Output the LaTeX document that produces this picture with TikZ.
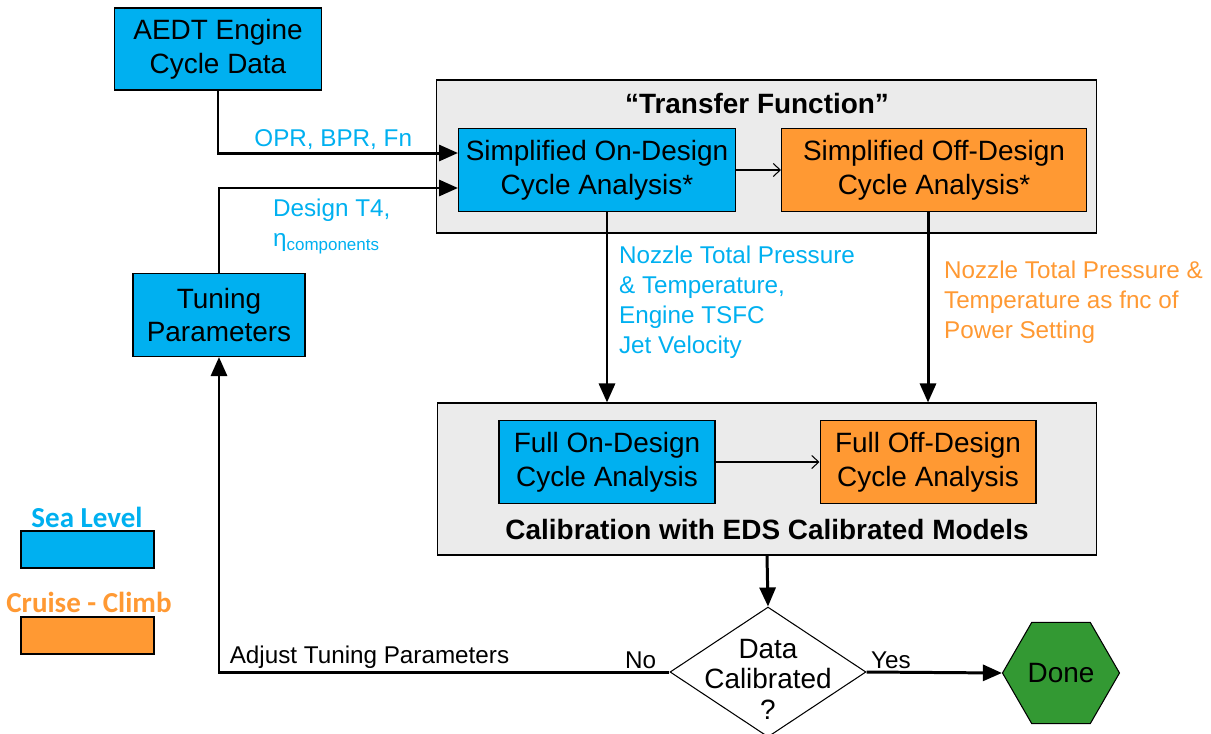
\documentclass[tikz,border=0pt]{standalone}
\usepackage{fontspec}
\setmainfont{Liberation Sans}
\newfontfamily\legendfont{Carlito}
\usetikzlibrary{positioning,shapes.geometric,arrows.meta}
\definecolor{slblue}{HTML}{00B0F0}
\definecolor{ccorange}{HTML}{FF9933}
\definecolor{donegreen}{HTML}{339933}
\definecolor{tfgray}{HTML}{EBEBEB}

\begin{document}
\begin{tikzpicture}[x=0.02cm, y=-0.02cm,
  blk/.style  = {draw, line width=0.6pt, align=center, inner sep=1pt,
                 minimum height=1.66cm, font=\fontsize{15.9}{19.3}\selectfont},
  onblk/.style  = {blk, fill=slblue},
  offblk/.style = {blk, fill=ccorange},
  grp/.style  = {draw, line width=0.6pt, fill=tfgray},
  ttl/.style  = {font=\bfseries\fontsize{15.9}{19.3}\selectfont},
  lbl/.style  = {font=\fontsize{13.8}{17}\selectfont, align=left, inner sep=1pt},
  lgd/.style  = {font=\legendfont\bfseries\fontsize{16.5}{19}\selectfont},
  lgdbox/.style = {draw, line width=1pt, minimum width=2.66cm, minimum height=0.74cm},
  flw/.style  = {-{Triangle[length=0.38cm, width=0.32cm]}, line width=1.7pt},
  thn/.style  = {-{Straight Barb[length=0.14cm, width=0.26cm]}, line width=0.6pt}
]
\useasboundingbox (0,0) rectangle (1211,734);

% --- groupes ---
\node[grp, minimum width=13.22cm, minimum height=3.06cm] (tf) at (766.5,156.5) {};
\node[ttl] (tftitle) at (757,104) {“Transfer Function”};
\node[grp, minimum width=13.2cm, minimum height=3.04cm] (cal) at (767,479) {};
\node[ttl] (caltitle) at (767,530) {Calibration with EDS Calibrated Models};

% --- blocs ---
\node[onblk, minimum width=4.14cm, minimum height=1.64cm] (aedt) at (218,49) {AEDT Engine\\Cycle Data};
\node[onblk, minimum width=5.54cm] (sod) at (597,170) {Simplified On-Design\\Cycle Analysis*};
\node[offblk, minimum width=6.1cm] (sofd) at (934,170) {Simplified Off-Design\\Cycle Analysis*};
\node[onblk, minimum width=3.44cm] (tune) at (219,315) {Tuning\\Parameters};
\node[onblk, minimum width=4.32cm] (fond) at (607,462) {Full On-Design\\Cycle Analysis};
\node[offblk, minimum width=4.32cm] (fofd) at (928,462) {Full Off-Design\\Cycle Analysis};

% --- decision et fin ---
\node[diamond, draw, line width=0.6pt, fill=white, minimum width=3.92cm, minimum height=2.6cm,
      inner sep=0pt] (dc) at (768,672) {};
\node[align=center, font=\fontsize{15.9}{17.4}\selectfont] (dctext) at (768,679) {Data\\Calibrated\\?};
\node[regular polygon, regular polygon sides=6, draw, line width=0.6pt, fill=donegreen,
      minimum size=2.34cm, inner sep=0pt, font=\fontsize{15.9}{19.3}\selectfont] (done) at (1061,673) {Done};

% --- fleches ---
\draw[flw] (aedt.south) |- ([yshift=0.34cm]sod.west)
  node[lbl, text=slblue, above, pos=0.74] {OPR, BPR, Fn};
\draw[flw] (tune.north) |- ([yshift=-0.36cm]sod.west);
\node[lbl, text=slblue, anchor=north west] (dsgn) at (271,197) {Design T4,\\η\textsubscript{components}};
\draw[thn] (sod) -- (sofd);
\draw[flw] (sod.south -| fond.north) -- (cal.north -| fond.north);
\node[lbl, text=slblue, anchor=north west] (nzon) at (617,244) {Nozzle Total Pressure\\\& Temperature,\\Engine TSFC\\Jet Velocity};
\draw[flw] (sofd.south -| fofd.north) -- (cal.north -| fofd.north);
\node[lbl, text=ccorange, anchor=north west] (nzoff) at (942,259) {Nozzle Total Pressure \&\\Temperature as fnc of\\Power Setting};
\draw[thn] (fond) -- (fofd);
\draw[flw] (cal.south) -- (dc.north);
\draw[flw] (dc.west) -| (tune.south)
  node[lbl, above, pos=0.032] {No}
  node[lbl, above, pos=0.333] {Adjust Tuning Parameters};
\draw[flw] (dc.east) -- (done.west) node[lbl, above, pos=0.18] {Yes};

% --- legende ---
\node[lgd, text=slblue] (sltxt) at (87,517) {Sea Level};
\node[lgdbox, fill=slblue] (slbox) at (87.5,549.5) {};
\node[lgd, text=ccorange] (cctxt) at (89,602) {Cruise - Climb};
\node[lgdbox, fill=ccorange] (ccbox) at (87.5,635.5) {};
\end{tikzpicture}
\end{document}
